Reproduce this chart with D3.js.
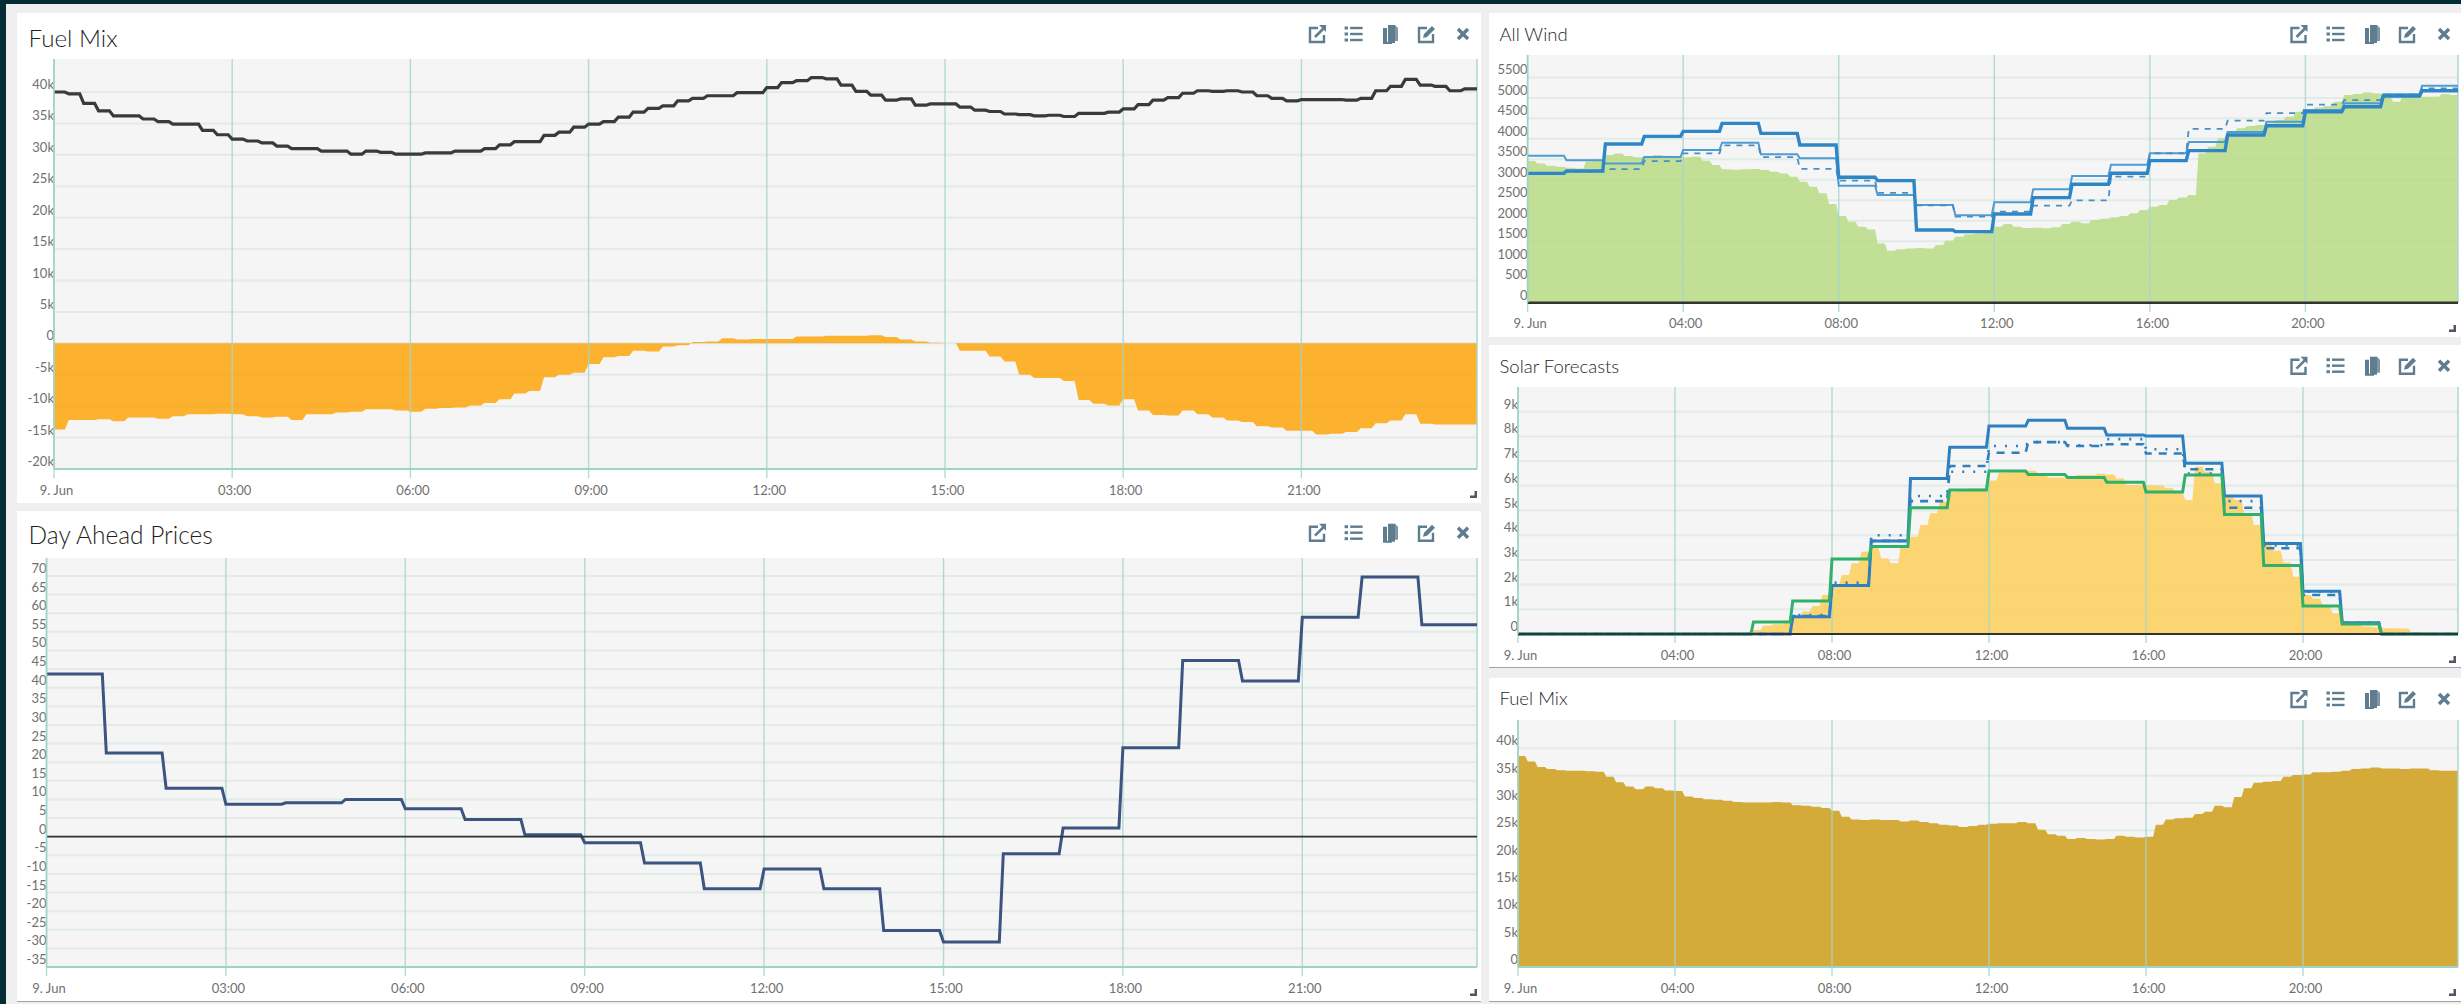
<!DOCTYPE html>
<html>
<head>
<meta charset="utf-8">
<script src="https://cdn.jsdelivr.net/npm/d3@7/dist/d3.min.js"></script>
<style>
html,body{margin:0;padding:0;background:#efefef;overflow:hidden}
svg{display:block}
text{font-family:Lato,"Open Sans",sans-serif}
</style>
</head>
<body>
<svg id="c" width="2461" height="1004"></svg>
<script>
// ---- data (quarter-hourly unless noted) ----
const fuelLoad = [40.0,39.7,38.2,37.0,36.2,36.2,35.7,35.3,34.9,34.9,33.9,33.2,32.5,32.2,31.9,31.4,31.0,31.0,30.6,30.6,30.1,30.6,30.4,30.1,30.1,30.3,30.3,30.6,30.6,31.0,31.6,32.1,32.1,33.1,33.6,34.4,34.9,35.3,36.0,36.8,37.4,37.8,38.6,39.0,39.4,39.4,39.9,39.9,40.7,41.5,41.8,42.3,42.1,41.1,40.1,39.5,38.7,38.9,37.9,38.1,38.1,37.6,37.1,36.9,36.5,36.4,36.2,36.3,36.1,36.6,36.6,36.8,37.3,38.0,38.7,39.1,39.8,40.2,40.1,40.2,40.0,39.4,39.0,38.6,38.8,38.8,38.8,38.7,39.0,40.2,40.9,42.0,41.1,40.9,40.2,40.5];
const fuelNet = [-13.7,-12.2,-12.2,-12.1,-12.4,-11.8,-11.8,-12.0,-11.6,-11.3,-11.3,-11.2,-11.3,-11.6,-11.8,-11.7,-12.2,-11.3,-11.3,-11.0,-10.9,-10.5,-10.5,-10.7,-10.9,-10.4,-10.3,-10.2,-9.9,-9.5,-8.9,-8.0,-7.6,-5.4,-5.0,-4.7,-3.3,-2.2,-2.0,-1.2,-1.3,-0.5,-0.3,0.2,0.3,0.8,0.6,0.7,0.7,0.7,1.1,1.1,1.2,1.2,1.2,1.3,1.0,0.6,0.3,0.1,0,-1.2,-1.2,-2.1,-2.9,-5.0,-5.5,-5.5,-6.0,-9.0,-9.6,-9.9,-8.9,-10.7,-11.4,-11.5,-10.7,-11.3,-11.8,-12.3,-12.5,-13.2,-13.4,-13.9,-13.9,-14.5,-14.4,-14.1,-13.5,-12.7,-12.3,-11.3,-12.8,-12.9,-12.9,-12.9];
const fuelSmall = [38.6,37.6,36.6,36.2,36.0,35.9,35.9,35.8,35.7,34.8,33.8,33.0,32.5,33.0,32.7,32.3,32.2,31.2,30.9,30.7,30.6,30.4,30.2,30.1,30.1,30.1,30.2,30.1,29.6,29.5,29.3,29.1,28.6,27.5,27.0,26.9,27.0,26.9,26.9,26.6,26.8,26.5,26.3,26.0,25.9,25.6,25.8,26.0,26.2,26.3,26.3,26.5,26.3,25.1,24.3,24.0,23.4,23.6,23.4,23.3,23.4,24.0,23.8,23.7,23.8,26.0,27.0,27.2,27.3,28.0,28.4,29.5,29.2,31.1,32.7,33.7,33.9,34.0,34.8,35.1,35.2,35.6,35.6,35.7,35.9,36.2,36.3,36.5,36.3,36.3,36.2,36.3,36.3,36.0,35.9,35.9];
const windActual = [3458,3401,3344,3320,3295,3279,3450,3499,3605,3645,3580,3548,3564,3605,3588,3564,3548,3564,3466,3361,3255,3247,3255,3263,3239,3198,3157,3076,2954,2832,2669,2409,2116,1977,1855,1790,1448,1269,1302,1326,1334,1326,1408,1513,1611,1668,1692,1733,1855,1920,1855,1823,1831,1815,1839,1920,1977,1937,2018,2051,2083,2116,2181,2262,2343,2384,2506,2571,2628,3645,3808,4012,4174,4256,4313,4337,4378,4459,4540,4662,4719,4768,4801,4907,5069,5094,5134,5110,5069,4907,5069,5110,5029,5029,5094,5069];
const solarActual = [0,0,0,0,0,0,0,0,0,0,0,0,0,0,0,0,0,0,0,0,0,0,0,0,.16,.34,.39,.43,.70,.91,1.13,1.58,1.98,2.39,2.86,3.33,3.51,3.06,2.86,3.54,3.94,4.41,4.89,5.36,5.76,5.83,5.90,5.90,6.21,6.53,6.55,6.56,6.61,6.50,6.34,6.34,6.37,6.44,6.44,6.49,6.46,6.30,6.03,6.03,6.03,6.01,5.90,5.72,5.43,6.77,6.57,6.10,5.63,5.43,4.89,4.41,3.74,3.37,2.89,2.32,1.58,1.44,1.17,.84,.50,.43,.30,.27,.23,.23,.22,.08,.03,0,0,0];
// hourly
const prices = [43.7,22.5,13,8.7,9.1,10,7.5,4.6,0.5,-1.6,-7.1,-14,-8.7,-14,-25.2,-28.3,-4.6,2.3,23.9,47.3,41.8,58.9,69.7,56.9];
const windThick = [3157,3214,3873,4060,4182,4378,4134,3850,3062,2979,1775,1734,2166,2564,2891,3160,3468,3712,4093,4321,4662,4785,5045,5175];
const windThin = [3588,3475,3400,3556,3727,3906,3621,3526,2857,2630,2386,2134,2452,2769,3094,3370,3648,3924,4166,4418,4703,4866,5086,5297];
const windDash = [3141,3198,3263,3458,3645,3841,3556,3265,2979,2679,2378,2100,2222,2369,2500,3078,3648,4241,4443,4630,4833,4947,5078,5232];
const solarHigh = [0,0,0,0,0,0,0,.70,1.96,3.77,6.30,7.56,8.42,8.65,8.33,8.06,8.02,6.91,5.59,3.66,1.73,.46,0,0];
const solarGreen = [0,0,0,0,0,0,.49,1.34,3.04,3.54,5.11,5.83,6.60,6.46,6.34,6.14,5.75,6.44,4.84,2.77,1.13,.40,0,0];
const solarDash = [0,0,0,0,0,0,0,.73,1.96,3.77,5.38,6.8,7.34,7.77,7.61,7.68,7.31,6.67,5.11,3.47,1.58,.43,0,0];
const solarDot = [0,0,0,0,0,0,0,.77,2.08,4.0,5.59,6.57,7.61,7.77,7.64,7.89,7.48,6.50,5.38,3.58,1.71,.46,0,0];
// ticks
const ticks3h = [0,3,6,9,12,15,18,21];
const ticks4h = [0,4,8,12,16,20];
const fuelTicks = [-20,-15,-10,-5,0,5,10,15,20,25,30,35,40];
const priceTicks = [-35,-30,-25,-20,-15,-10,-5,0,5,10,15,20,25,30,35,40,45,50,55,60,65,70];
const windTicks = [0,500,1000,1500,2000,2500,3000,3500,4000,4500,5000,5500];
const solarTicks = [0,1,2,3,4,5,6,7,8,9];
const smallFuelTicks = [0,5,10,15,20,25,30,35,40];
const day = new Date(2019,5,9);
const at = h => d3.timeMinute.offset(day, Math.round(h*60));
const kFmt = v => v===0 ? "0" : v+"k";
const hourFmt = d => d3.timeFormat("%H:%M")(d)==="00:00" ? "9. Jun" : d3.timeFormat("%H:%M")(d);

// step expansion: each value holds for most of its period, then ramps to the next
function steps(vals, hrs, flat){
  const out=[];
  vals.forEach((v,i)=>{ out.push({t:at(i*hrs),v}); out.push({t:at((i+flat)*hrs),v}); });
  out.push({t:at(24),v:vals[vals.length-1]});
  return out;
}
const quarter = vals => steps(vals,.25,.72);
const hourly = vals => steps(vals,1,.93);

const svg = d3.select("#c");
svg.append("rect").attr("width",2461).attr("height",1004).attr("fill","#efefef");
svg.append("rect").attr("width",2461).attr("height",4).attr("fill","#022c36");
svg.append("rect").attr("width",6).attr("height",1004).attr("fill","#022c36");

let uid=0;
function icons(g,xs,y){
  const c="#5f7d8f";
  const mk=(x)=>g.append("g").attr("transform",`translate(${x},${y})`);
  let a=mk(xs[0]);
  a.append("path").attr("d","M1,-6H-7V8H7V1").attr("fill","none").attr("stroke",c).attr("stroke-width",2.4);
  a.append("path").attr("d","M-2,3L7,-6").attr("fill","none").attr("stroke",c).attr("stroke-width",2.6);
  a.append("path").attr("d","M2,-9H9V-2Z").attr("fill",c);
  a=mk(xs[1]);
  [-6,0,6].forEach(d=>{
    a.append("rect").attr("x",-9).attr("y",d-1.5).attr("width",3.4).attr("height",3).attr("fill",c);
    a.append("rect").attr("x",-3.5).attr("y",d-1.2).attr("width",12.5).attr("height",2.4).attr("fill",c);
  });
  a=mk(xs[2]);
  a.append("path").attr("d","M-2,-9H5V9H-2Z").attr("fill",c);
  a.append("path").attr("d","M5,-9L8,-6V7H5Z").attr("fill",c).attr("opacity",.8);
  a.append("path").attr("d","M-7,-6H-3V8H2V10H-7Z").attr("fill",c);
  a=mk(xs[3]);
  a.append("path").attr("d","M1,-6H-7V8H7V0").attr("fill","none").attr("stroke",c).attr("stroke-width",2.4);
  a.append("path").attr("d","M-3,4L-2,0L6,-8L9,-5L1,3Z").attr("fill",c);
  a=mk(xs[4]);
  a.append("path").attr("d","M-5,-5L5,5M5,-5L-5,5").attr("fill","none").attr("stroke",c).attr("stroke-width",3.4);
}

function panel(o){
  const g=svg.append("g");
  g.append("rect").attr("x",o.px0).attr("y",o.py0).attr("width",o.px1-o.px0).attr("height",o.py1-o.py0).attr("fill","#fff");
  if(o.rule) g.append("rect").attr("x",o.px0).attr("y",o.py1-1).attr("width",o.px1-o.px0).attr("height",1).attr("fill","#a2a2a2");
  g.append("text").attr("x",o.tx).attr("y",o.ty).attr("font-size",o.tsize).attr("font-weight",300).attr("fill","#1f1f1f").text(o.title);
  icons(g,o.ix,o.iy);
  const x=d3.scaleTime().domain([at(0),at(24)]).range([o.left,o.x24]);
  const y=d3.scaleLinear().domain(o.dom).range(o.rng);
  g.append("rect").attr("x",o.left).attr("y",o.top).attr("width",o.right-o.left).attr("height",o.bottom-o.top).attr("fill","#f5f5f5");
  // horizontal grid
  g.append("g").selectAll("line").data(o.yt).join("line")
    .attr("x1",o.left).attr("x2",o.right).attr("y1",d=>y(d)).attr("y2",d=>y(d))
    .attr("stroke","#e1ebe8").attr("stroke-width",2);
  const cid="clip"+(uid++);
  svg.append("clipPath").attr("id",cid).append("rect").attr("x",o.left).attr("y",o.top).attr("width",o.right-o.left).attr("height",o.bottom-o.top+2);
  const plot=g.append("g").attr("clip-path",`url(#${cid})`);
  (o.areas||[]).forEach(a=>{
    plot.append("path").datum(a.data)
      .attr("d",d3.area().x(d=>x(d.t)).y0(y(0)).y1(d=>y(d.v)))
      .attr("fill",a.fill).attr("fill-opacity",a.op);
  });
  // vertical grid and axis ticks
  const xTicks=o.xt.map(at);
  const vg=g.append("g");
  vg.selectAll("line").data(xTicks).join("line")
    .attr("x1",d=>x(d)).attr("x2",d=>x(d)).attr("y1",o.top).attr("y2",o.bottom+9)
    .attr("stroke","#a5d6cc").attr("stroke-width",1.4).attr("stroke-opacity",.85);
  vg.append("line").attr("x1",o.right).attr("x2",o.right).attr("y1",o.top).attr("y2",o.bottom)
    .attr("stroke","#a5d6cc").attr("stroke-width",1.4);
  g.append("line").attr("x1",o.left).attr("x2",o.right).attr("y1",o.bottom).attr("y2",o.bottom)
    .attr("stroke","#9fd3c8").attr("stroke-width",2);
  const over=g.append("g").attr("clip-path",`url(#${cid})`);
  (o.lines||[]).forEach(l=>{
    over.append("path").datum(l.data)
      .attr("d",d3.line().x(d=>x(d.t)).y(d=>y(d.v)))
      .attr("fill","none").attr("stroke",l.color).attr("stroke-width",l.w)
      .attr("stroke-dasharray",l.dash||null).attr("stroke-opacity",l.op||1);
  });
  (o.zero?[o.zero]:[]).forEach(z=>{
    over.append("line").attr("x1",o.left).attr("x2",o.right).attr("y1",y(0)).attr("y2",y(0))
      .attr("stroke","#333").attr("stroke-width",z);
  });
  // axes (labels only)
  const ax=g.append("g").attr("transform",`translate(0,${o.xLabelY})`)
    .call(d3.axisBottom(x).tickValues(xTicks).tickFormat(hourFmt).tickSize(0).tickPadding(0));
  ax.select(".domain").remove();
  ax.selectAll("text").attr("dx",2).attr("dy",0).attr("y",0).attr("font-size",13).attr("fill","#707070").attr("font-family",null);
  const ay=g.append("g").attr("transform",`translate(${o.left},0)`)
    .call(d3.axisLeft(y).tickValues(o.yt).tickFormat(o.yf).tickSize(0).tickPadding(0));
  ay.select(".domain").remove();
  ay.selectAll("text").attr("dy",-3.5).attr("x",0).attr("font-size",13).attr("fill","#707070").attr("font-family",null);
  g.append("line").attr("x1",o.left).attr("x2",o.left).attr("y1",o.top).attr("y2",o.bottom)
    .attr("stroke","#9fd3c8").attr("stroke-width",1.6);
  // resize grip
  g.append("path").attr("d",`M${o.gx},${o.gy}h-7v-2.5h4.5v-4.5h2.5z`).attr("fill","#556");
}

const iconsL=[1317,1353.6,1390,1426,1463], iconsR=[2298.5,2335.5,2372,2407,2444];

panel({title:"Fuel Mix",px0:17,px1:1481,py0:13,py1:503,tx:28.5,ty:47,tsize:24.2,ix:iconsL,iy:34,
  left:54,right:1477,x24:1479.6,top:59,bottom:469,dom:[-20,40],rng:[469,92],
  xt:ticks3h,yt:fuelTicks,yf:kFmt,xLabelY:495,gx:1477,gy:498,
  areas:[{data:quarter(fuelNet),fill:"#fda50e",op:.86}],
  lines:[{data:quarter(fuelLoad),color:"#3a3a3a",w:3.2}]});

panel({title:"Day Ahead Prices",px0:17,px1:1481,py0:511,py1:1002,rule:true,tx:28.5,ty:544,tsize:24.5,ix:iconsL,iy:532.7,
  left:46.5,right:1477,x24:1481.7,top:558,bottom:967,dom:[-35,70],rng:[967,576],
  xt:ticks3h,yt:priceTicks,yf:d=>d,xLabelY:993,gx:1477,gy:996,zero:1.6,
  lines:[{data:hourly(prices),color:"#3d5480",w:3}]});

panel({title:"All Wind",px0:1489,px1:2461,py0:13,py1:337,tx:1499.5,ty:41,tsize:18.5,ix:iconsR,iy:34,
  left:1527.6,right:2458,x24:2461,top:55,bottom:303,dom:[0,5500],rng:[302.7,77.4],
  xt:ticks4h,yt:windTicks,yf:d=>d,xLabelY:328,gx:2456,gy:332,zero:2.6,
  areas:[{data:quarter(windActual),fill:"#b9dc88",op:.88}],
  lines:[{data:hourly(windThin),color:"#4f9bd3",w:2},
         {data:hourly(windDash),color:"#4a8fc4",w:1.8,dash:"6 6"},
         {data:hourly(windThick),color:"#2f86c6",w:3.4}]});

panel({title:"Solar Forecasts",px0:1489,px1:2461,py0:345,py1:668,rule:true,tx:1499.5,ty:373,tsize:18.5,ix:iconsR,iy:365.7,
  left:1518,right:2458,x24:2460,top:387,bottom:634,dom:[0,9],rng:[634,411.7],
  xt:ticks4h,yt:solarTicks,yf:kFmt,xLabelY:660,gx:2456,gy:663,
  areas:[{data:quarter(solarActual),fill:"#fad36a",op:.95}],
  lines:[{data:hourly(solarDot),color:"#2f7fbf",w:2.6,dash:"2 9"},
         {data:hourly(solarDash),color:"#2f7fbf",w:2.6,dash:"8 7"},
         {data:hourly(solarHigh),color:"#2f80c0",w:3},
         {data:hourly(solarGreen),color:"#30b06a",w:3}],
  zero:2});

panel({title:"Fuel Mix",px0:1489,px1:2461,py0:678,py1:1002,rule:true,tx:1499.5,ty:705,tsize:18.5,ix:iconsR,iy:699,
  left:1518,right:2458,x24:2460,top:720,bottom:967,dom:[0,40],rng:[967,748.3],
  xt:ticks4h,yt:smallFuelTicks,yf:kFmt,xLabelY:993,gx:2456,gy:996,
  areas:[{data:quarter(fuelSmall),fill:"#d4ab38",op:1}]});
</script>
</body>
</html>
